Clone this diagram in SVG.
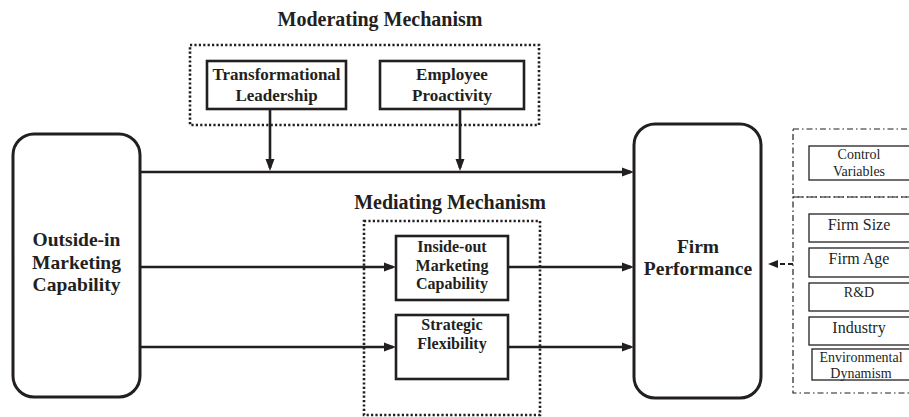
<svg xmlns="http://www.w3.org/2000/svg" width="909" height="417" viewBox="0 0 909 417">
  <style>
    .bg { fill: #ffffff; }
    .main { fill: #ffffff; stroke: #231f20; stroke-width: 3; }
    .box { fill: #ffffff; stroke: #231f20; stroke-width: 2.6; }
    .ctl { fill: #ffffff; stroke: #231f20; stroke-width: 1.3; }
    .dotted { fill: none; stroke: #231f20; stroke-width: 2.6; stroke-dasharray: 2.2 2.2; }
    .dashdot { fill: none; stroke: #231f20; stroke-width: 1.2; stroke-dasharray: 6 3 1.5 3; }
    .edge { fill: none; stroke: #231f20; stroke-width: 2.6; }
    .edge-ctl { fill: none; stroke: #231f20; stroke-width: 1.8; stroke-dasharray: 5 3; }
    .title { font-family: "Liberation Serif", "Times New Roman", serif; font-weight: bold; font-size: 20px; fill: #231f20; text-anchor: middle; }
    .big { font-family: "Liberation Serif", "Times New Roman", serif; font-weight: bold; font-size: 19.5px; fill: #231f20; text-anchor: middle; }
    .mid { font-family: "Liberation Serif", "Times New Roman", serif; font-weight: bold; font-size: 17px; fill: #231f20; text-anchor: middle; }
    .med { font-family: "Liberation Serif", "Times New Roman", serif; font-weight: bold; font-size: 16px; fill: #231f20; text-anchor: middle; }
    .small { font-family: "Liberation Serif", "Times New Roman", serif; font-size: 16px; fill: #231f20; text-anchor: middle; }
    .tiny { font-family: "Liberation Serif", "Times New Roman", serif; font-size: 14px; fill: #231f20; text-anchor: middle; }
  </style>
  <defs>
    <marker id="arrow" markerUnits="userSpaceOnUse" markerWidth="12" markerHeight="10" refX="9" refY="5" orient="auto">
      <path d="M0,0.5 L12,5 L0,9.5 z" fill="#231f20"/>
    </marker>
    <marker id="arrow-ctl" markerUnits="userSpaceOnUse" markerWidth="10" markerHeight="9" refX="7" refY="4.5" orient="auto">
      <path d="M0,0.5 L10,4.5 L0,8.5 z" fill="#231f20"/>
    </marker>
  </defs>

  <rect class="bg" x="0" y="0" width="909" height="417"/>

  <!-- group headings -->
  <text class="title" x="380" y="26">Moderating Mechanism</text>
  <text class="title" x="450" y="209">Mediating Mechanism</text>

  <!-- grouping frames -->
  <rect class="dotted" x="190" y="45" width="349" height="80"/>
  <rect class="dotted" x="364" y="221" width="176" height="194"/>
  <rect class="dashdot" x="793" y="129" width="140" height="68"/>
  <rect class="dashdot" x="793" y="197" width="140" height="196"/>

  <!-- connectors -->
  <g id="connectors">
    <path class="edge" d="M140,172 H631" marker-end="url(#arrow)"/>
    <path class="edge" d="M270,109 V168" marker-end="url(#arrow)"/>
    <path class="edge" d="M460,109 V168" marker-end="url(#arrow)"/>
    <path class="edge" d="M140,267 H393" marker-end="url(#arrow)"/>
    <path class="edge" d="M508,267 H631" marker-end="url(#arrow)"/>
    <path class="edge" d="M140,347 H393" marker-end="url(#arrow)"/>
    <path class="edge" d="M508,347 H631" marker-end="url(#arrow)"/>
    <path class="edge-ctl" d="M793,264 H771" marker-end="url(#arrow-ctl)"/>
  </g>

  <!-- nodes -->
  <g id="transformational-leadership">
    <rect class="box" x="207" y="61" width="139" height="48"/>
    <text class="mid" x="276.5" y="80">Transformational</text>
    <text class="mid" x="276.5" y="101">Leadership</text>
  </g>
  <g id="employee-proactivity">
    <rect class="box" x="380" y="61" width="144" height="48"/>
    <text class="mid" x="452" y="80">Employee</text>
    <text class="mid" x="452" y="101">Proactivity</text>
  </g>
  <g id="outside-in">
    <rect class="main" x="13" y="134" width="127" height="263" rx="21" ry="21"/>
    <text class="big" x="76.5" y="246">Outside-in</text>
    <text class="big" x="76.5" y="268.5">Marketing</text>
    <text class="big" x="76.5" y="291">Capability</text>
  </g>
  <g id="inside-out">
    <rect class="box" x="396" y="236" width="112" height="64"/>
    <text class="med" x="452" y="252">Inside-out</text>
    <text class="med" x="452" y="270.5">Marketing</text>
    <text class="med" x="452" y="289">Capability</text>
  </g>
  <g id="strategic-flexibility">
    <rect class="box" x="396" y="315" width="112" height="64"/>
    <text class="med" x="452" y="330">Strategic</text>
    <text class="med" x="452" y="349">Flexibility</text>
  </g>
  <g id="firm-performance">
    <rect class="main" x="634" y="124" width="127" height="274" rx="21" ry="21"/>
    <text class="big" x="698" y="253">Firm</text>
    <text class="big" x="698" y="275">Performance</text>
  </g>

  <!-- control variables -->
  <g id="control-variables">
    <rect class="ctl" x="809" y="146" width="120" height="34"/>
    <text class="tiny" x="859" y="159">Control</text>
    <text class="tiny" x="859" y="176">Variables</text>
  </g>
  <g id="firm-size">
    <rect class="ctl" x="809" y="214" width="120" height="28"/>
    <text class="small" x="859" y="230">Firm Size</text>
  </g>
  <g id="firm-age">
    <rect class="ctl" x="809" y="248" width="120" height="29"/>
    <text class="small" x="859" y="264">Firm Age</text>
  </g>
  <g id="rnd">
    <rect class="ctl" x="809" y="283" width="120" height="28"/>
    <text class="tiny" x="859" y="297">R&amp;D</text>
  </g>
  <g id="industry">
    <rect class="ctl" x="809" y="317" width="120" height="28"/>
    <text class="small" x="859" y="333">Industry</text>
  </g>
  <g id="environmental-dynamism">
    <rect class="ctl" x="812" y="349" width="120" height="31"/>
    <text class="tiny" x="861" y="362">Environmental</text>
    <text class="tiny" x="861" y="378">Dynamism</text>
  </g>
</svg>
